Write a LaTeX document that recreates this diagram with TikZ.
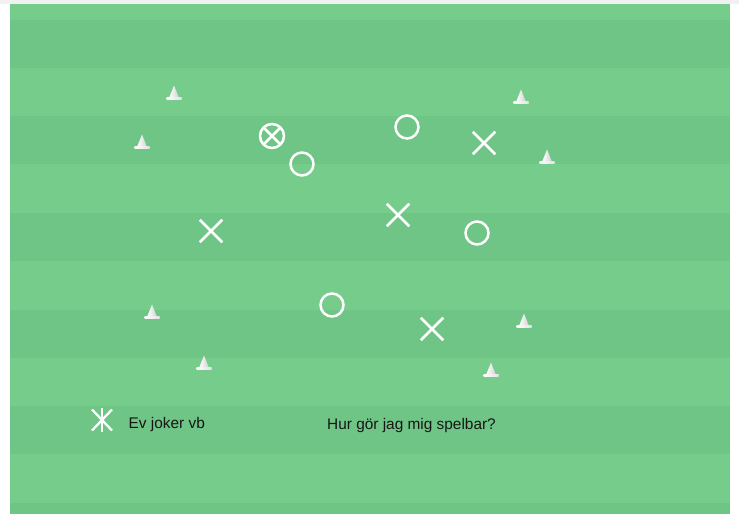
\documentclass[tikz,border=0pt]{standalone}
\usepackage{fontspec}
\setmainfont{Liberation Sans}
\usetikzlibrary{shapes.misc}
\definecolor{planljus}{RGB}{117,204,139}
\definecolor{planmork}{RGB}{110,197,133}
\definecolor{ramgra}{RGB}{241,241,241}
\definecolor{textsvart}{RGB}{22,22,22}

\tikzset{
  spelare/.style={circle, draw=white, line width=2.5bp, minimum size=23bp, inner sep=0pt},
  motst/.style={cross out, draw=white, line width=2.5bp, minimum size=20bp, inner sep=0pt},
  malvakt/.style={spelare, minimum size=24bp,
    path picture={\draw[white, line width=2.5bp]
      (path picture bounding box.north west) -- (path picture bounding box.south east)
      (path picture bounding box.north east) -- (path picture bounding box.south west);}},
  etikett/.style={anchor=base west, text=textsvart, inner sep=0pt,
    font=\fontsize{15.4bp}{18bp}\selectfont},
  kon/.pic={
    \shade[left color=white, middle color=white, right color=black!18]
      (-5,5) -- (0,-7.5) -- (5,5) -- cycle;
    \shade[left color=white, middle color=white, right color=black!12]
      (-7.5,4.8) rectangle (7.5,6.8);
  },
  joker/.pic={
    \draw[white, line width=2.3bp] (-10,-10.5) -- (10,10.5) (-10,10.5) -- (10,-10.5);
    \draw[white, line width=1.5bp] (0,-12) -- (0,12);
  }
}

\begin{document}
\begin{tikzpicture}[x=1bp, y=-1bp]
  \useasboundingbox (0,0) rectangle (739,514);
  % ram och plan
  \fill[white] (0,0) rectangle (739,514);
  \fill[ramgra] (0,0) rectangle (739,4);
  \fill[planljus] (10,4) rectangle (730,514);
  \foreach \y in {20,116.5,213,309.5,406,502.5}
    \fill[planmork] (10,\y) rectangle (730,{min(\y+48,514)});

  % koner
  \foreach \kx/\ky in {174/93, 142/142, 521/97, 547/157,
                       152/312, 204/363, 524/321, 491/370}
    \pic at (\kx,\ky) {kon};

  % egna spelare
  \node[malvakt] (mv) at (272,136) {};
  \node[spelare] (o1) at (302,164) {};
  \node[spelare] (o2) at (407,127) {};
  \node[spelare] (o3) at (477,233) {};
  \node[spelare] (o4) at (332,305) {};

  % motstandare
  \node[motst] (x1) at (484,143) {};
  \node[motst] (x2) at (211,231) {};
  \node[motst] (x3) at (398,215) {};
  \node[motst] (x4) at (432,329) {};

  % joker och text
  \pic at (102,420) {joker};
  \node[etikett] (jtext) at (128.5,428) {Ev joker vb};
  \node[etikett] (fraga) at (327,429) {Hur gör jag mig spelbar?};
\end{tikzpicture}
\end{document}
